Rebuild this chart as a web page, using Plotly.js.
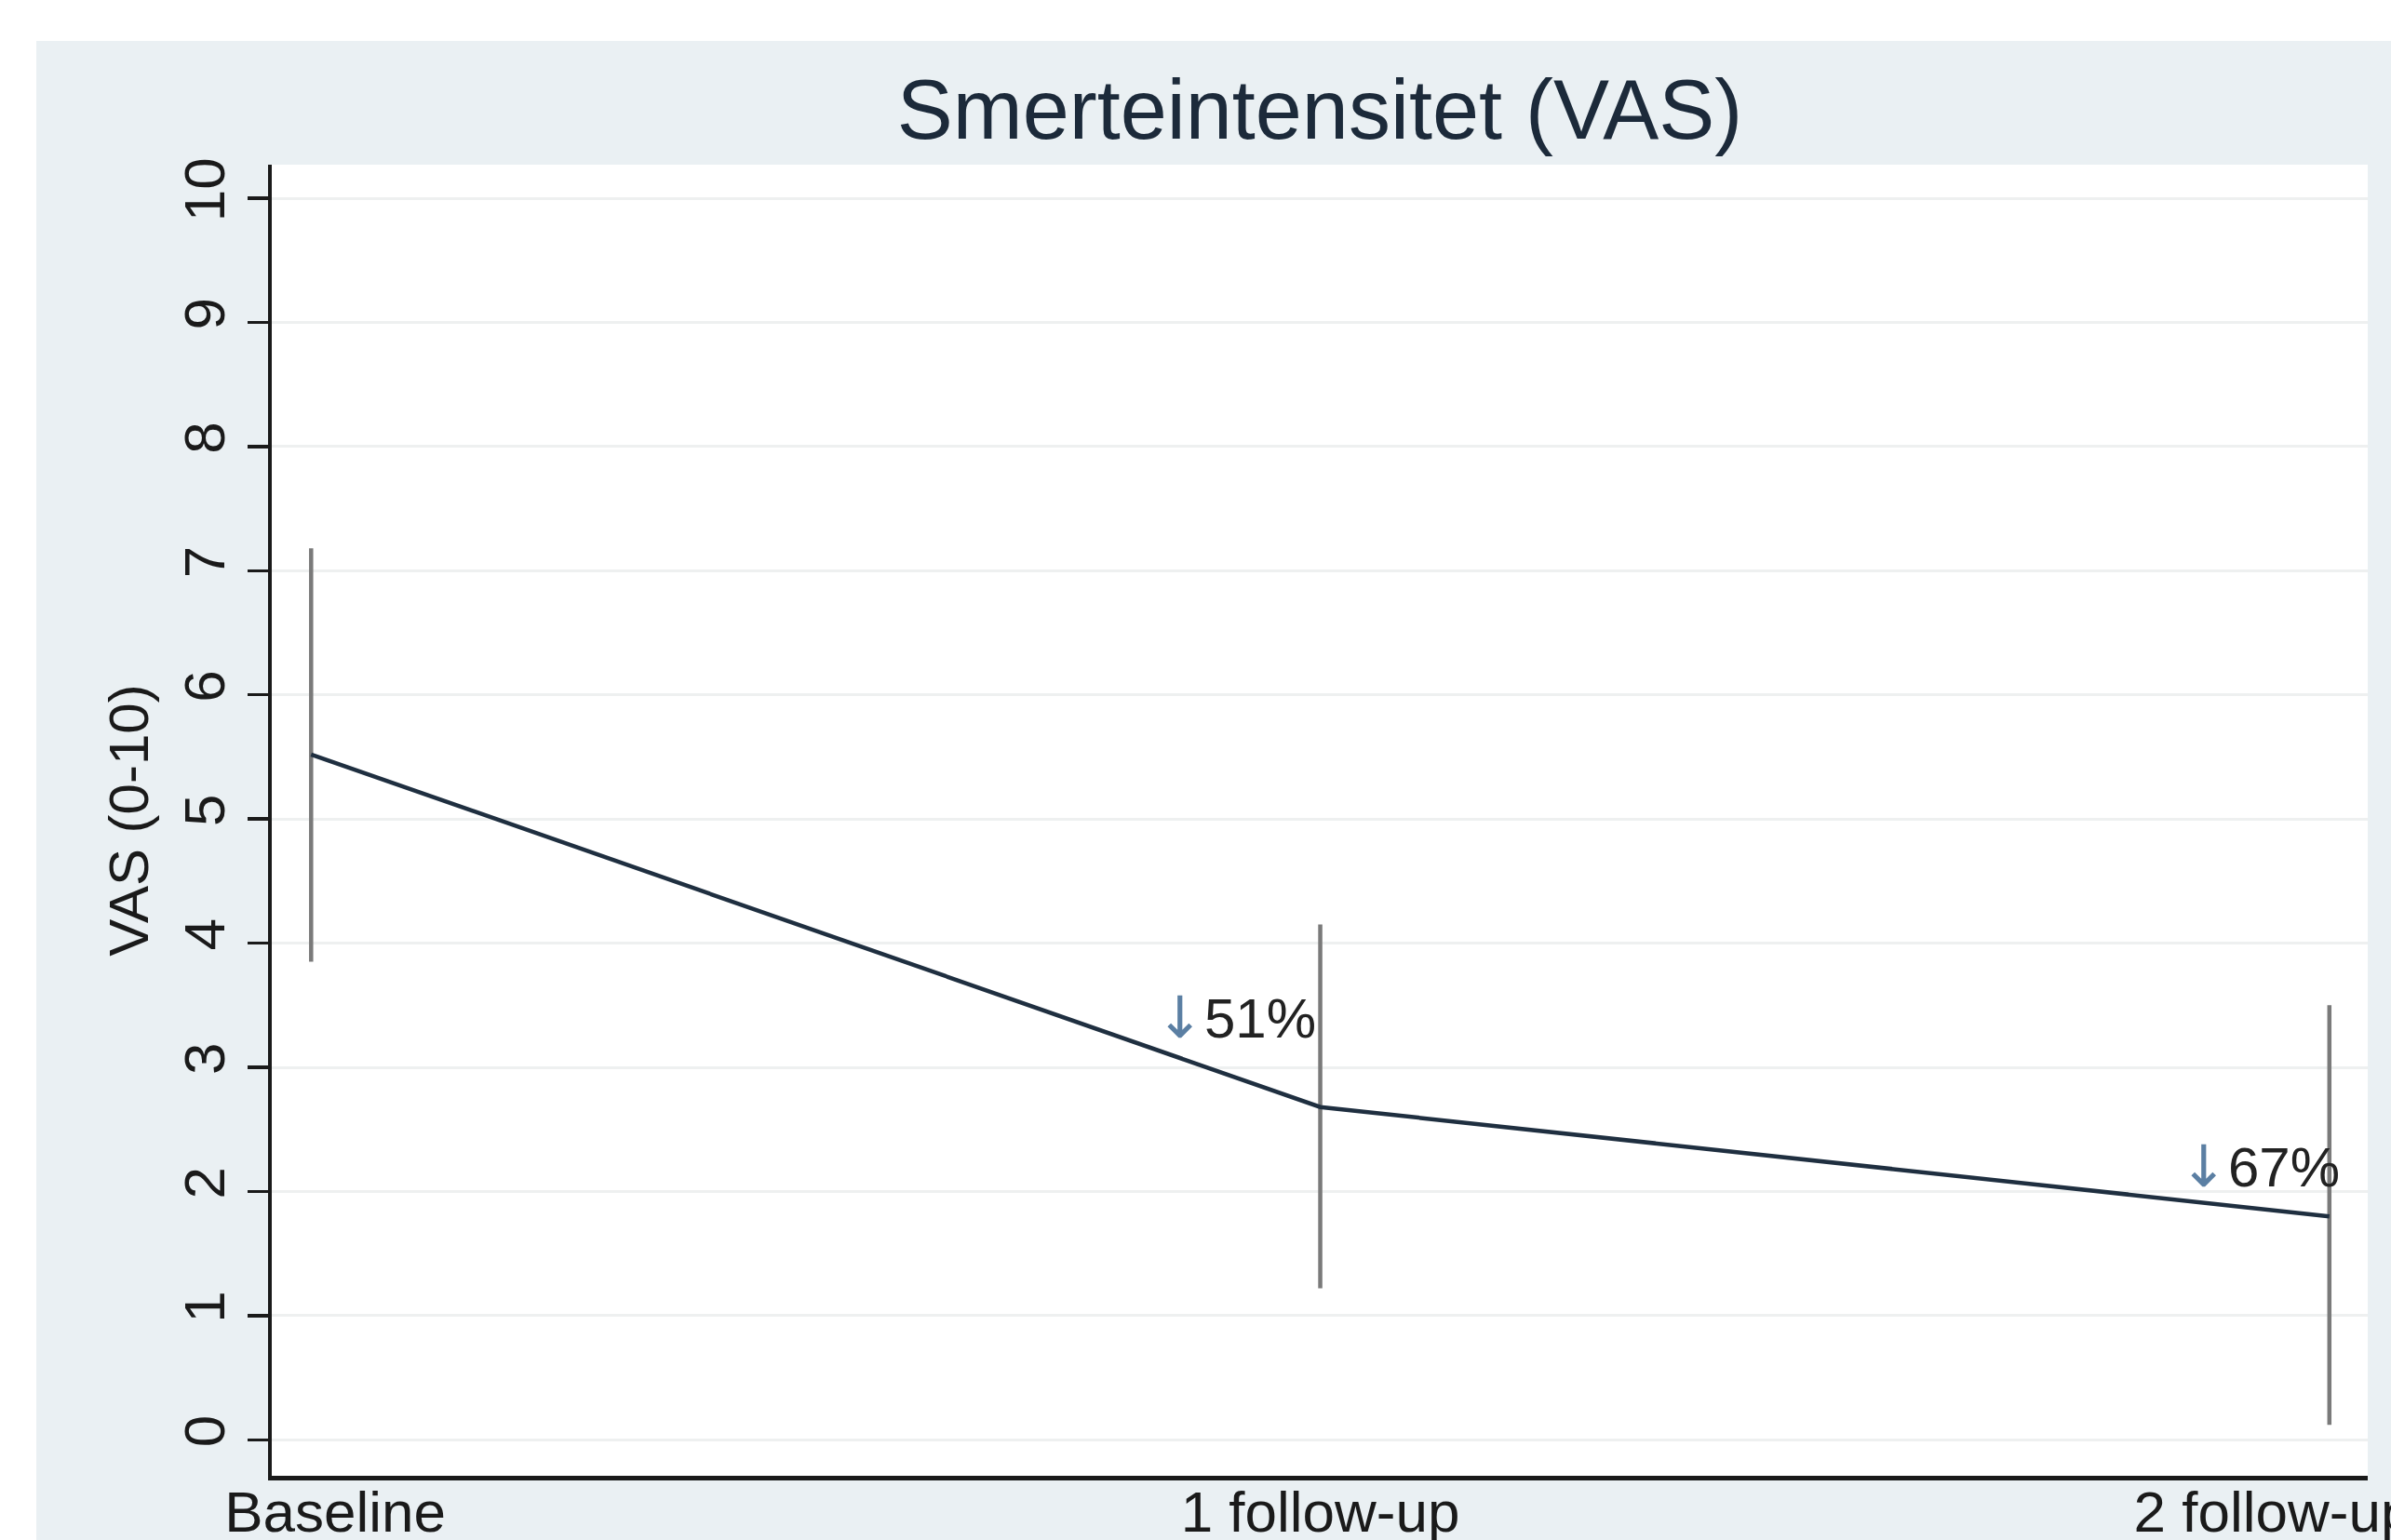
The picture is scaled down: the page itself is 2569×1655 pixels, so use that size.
<!DOCTYPE html>
<html>
<head>
<meta charset="utf-8">
<script src="https://cdn.plot.ly/plotly-3.0.1.min.js"></script>
<style>
  html, body { margin: 0; padding: 0; background: #ffffff; width: 2569px; height: 1655px; overflow: hidden; }
  #chart { position: absolute; left: 39px; top: 44px; width: 2530px; height: 1611px; }
</style>
</head>
<body>
<div id="chart"></div>
<script>
// ---- data ----
const timepoints = ["Baseline", "1 follow-up", "2 follow-up"];
const meanVAS = [5.52, 2.68, 1.8];
const ciUpper = [7.18, 4.15, 3.5];
const ciLower = [3.85, 1.22, 0.12];
const reductionLabels = ["51%", "67%"];
const reductionX = [0.835, 1.85];
const reductionY = [3.4, 2.2];
const yTicks = [0, 1, 2, 3, 4, 5, 6, 7, 8, 9, 10];

const xIdx = timepoints.map((_, i) => i);
const errPlus = meanVAS.map((m, i) => ciUpper[i] - m);
const errMinus = meanVAS.map((m, i) => m - ciLower[i]);

// edge labels are nudged inward like the original (leading / trailing no-break spaces)
const NB = "\u00a0";
const xTickText = timepoints.map((t, i) =>
  i === 0 ? NB.repeat(3) + t : (i === timepoints.length - 1 ? t + NB.repeat(7) : t));

const FONT = "Liberation Sans, Arial, sans-serif";

const traces = [
  {
    x: xIdx, y: meanVAS, type: "scatter", mode: "lines",
    line: { color: "#1f2f40", width: 4.5 },
    error_y: { type: "data", symmetric: false, array: errPlus, arrayminus: errMinus,
               color: "#7a7a7a", thickness: 4.5, width: 0 },
    hoverinfo: "skip", showlegend: false
  }
];

const annotations = reductionLabels.map((t, i) => ({
  x: reductionX[i], y: reductionY[i], xref: "x", yref: "y",
  xanchor: "left", yanchor: "middle", showarrow: false,
  text: '<span style="color:#5b7fa3;font-family:DejaVu Sans;font-size:62px">↓</span>' + t,
  font: { family: FONT, size: 60, color: "#222222" }
}));

const layout = {
  width: 2530, height: 1611,
  paper_bgcolor: "#eaf0f3",
  plot_bgcolor: "#ffffff",
  margin: { l: 253, r: 25, t: 133, b: 69, pad: 0 },
  showlegend: false,
  title: {
    text: "Smerteintensitet (VAS)",
    font: { family: FONT, size: 90, color: "#1c2a3a" },
    x: 0.5, xref: "paper", xanchor: "center",
    y: 1, yref: "container", yanchor: "top", pad: { t: 42 }
  },
  xaxis: {
    range: [-0.039, 2.038],
    tickvals: xIdx, ticktext: xTickText,
    ticks: "", showgrid: false, zeroline: false,
    showline: true, linecolor: "#1a1a1a", linewidth: 4.5,
    tickfont: { family: FONT, size: 62, color: "#1a1a1a" },
    ticklabelstandoff: -19,
    ticklabeloverflow: "allow",
    automargin: false, fixedrange: true
  },
  yaxis: {
    range: [-0.29, 10.27],
    tickvals: yTicks, ticktext: yTicks.map(String),
    tickangle: -90,
    ticks: "outside", ticklen: 22, tickwidth: 3.5, tickcolor: "#1a1a1a",
    showgrid: true, gridcolor: "#eef0f0", gridwidth: 3,
    zeroline: false,
    showline: true, linecolor: "#1a1a1a", linewidth: 4.5,
    tickfont: { family: FONT, size: 62, color: "#1a1a1a" },
    title: { text: "VAS (0-10)", font: { family: FONT, size: 60, color: "#1a1a1a" } },
    automargin: false, fixedrange: true
  },
  annotations: annotations
};

Plotly.newPlot("chart", traces, layout, { displayModeBar: false, staticPlot: true });
</script>
</body>
</html>
